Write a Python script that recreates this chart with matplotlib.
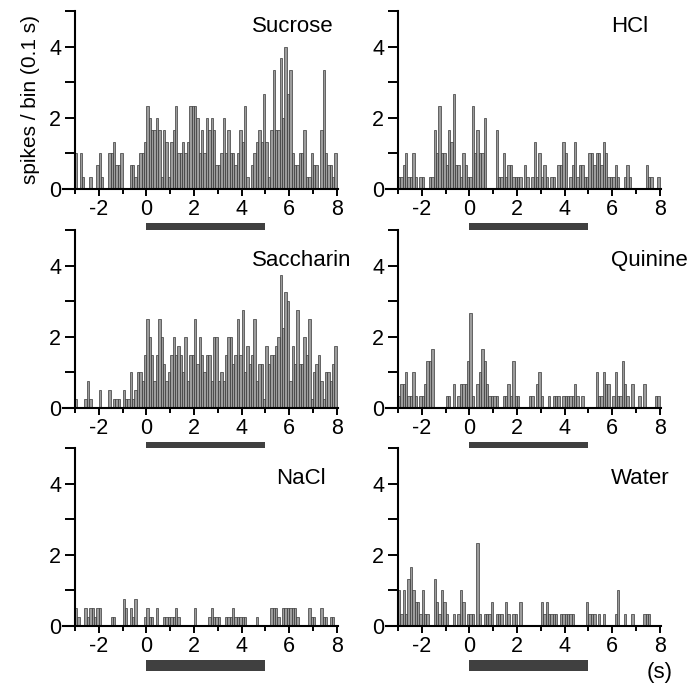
import numpy as np
import matplotlib
matplotlib.use('Agg')
import matplotlib.pyplot as plt
from matplotlib.patches import Rectangle
from matplotlib.ticker import MultipleLocator

plt.rcParams['font.family'] = ['Liberation Sans', 'DejaVu Sans']

# bin left edges: -3.0 .. 7.9 s, 0.1 s per bin
BIN_START = -3.0
BIN_WIDTH = 0.1

TASTES = ['Sucrose', 'HCl', 'Saccharin', 'Quinine', 'NaCl', 'Water']

# spikes / bin, one row of ten bins per second
sucrose = [
    1, 0, 1, 0.33, 0, 0, 0.33, 0, 0, 0.67,
    1, 0.33, 0, 0, 1, 1, 1.33, 0.67, 0.67, 1,
    0, 0, 0, 0.67, 0.67, 0.33, 0.67, 1, 1, 1.33,
    2.33, 2, 1.67, 1.67, 2, 1.67, 0.33, 1.67, 1.33, 0.33,
    1.33, 1.67, 2.33, 1, 1, 1.33, 1, 1.33, 2.33, 2.33,
    2.33, 2, 1, 1.67, 1, 2, 1.67, 2, 1.67, 0.67,
    0.67, 1, 2, 1, 1.67, 1, 1, 0.67, 1, 1.67,
    1.33, 2.33, 0.33, 0, 0.67, 1, 1.33, 1.67, 1.33, 2.67,
    1.33, 0.33, 1.67, 3.33, 1.67, 1.67, 3.67, 2, 4, 2.67,
    3.33, 1, 0.67, 0.67, 1, 1, 1.67, 0.33, 0.33, 1,
    0.67, 0.67, 0, 1.67, 3.33, 1, 0.67, 0.67, 0.33, 1,
]
hcl = [
    0.33, 0.33, 0.67, 1, 0.33, 0.33, 1, 0.33, 0, 0.33,
    0.33, 0, 0, 0.33, 0.33, 1.67, 1, 2.33, 1, 1,
    0.67, 1.67, 1.33, 2.67, 0.67, 0.67, 0.33, 1, 0.67, 0.33,
    0.33, 2.33, 1, 1.67, 1, 1, 2, 0, 0, 0,
    0, 1.67, 0.33, 0.33, 1, 0.33, 0.67, 0.67, 0.33, 0.33,
    0.33, 0.33, 0, 0.67, 0.33, 0, 0.33, 1.33, 0.33, 1,
    0.33, 0.67, 0.33, 0, 0.33, 0.33, 0, 0.67, 0.67, 1.33,
    1, 0, 0.33, 0.67, 1.33, 0.33, 0.67, 0.67, 0.33, 0.33,
    1, 1, 0.67, 1, 1, 0.67, 1.33, 1, 0.33, 0.33,
    0.33, 0.67, 0.33, 0, 0, 0.33, 0.67, 0.33, 0, 0,
    0, 0, 0, 0, 0.67, 0.33, 0.33, 0, 0, 0.33,
]
saccharin = [
    0.25, 0, 0, 0, 0.25, 0.75, 0.25, 0, 0, 0,
    0.5, 0, 0, 0, 0.5, 0, 0.25, 0.25, 0.25, 0,
    0.5, 0.25, 0.25, 1, 0.25, 0.5, 1, 1, 0.75, 1.5,
    2.5, 2, 1.5, 0.75, 1.5, 2.5, 2, 1.25, 0.75, 1,
    1.5, 2, 1.5, 1.75, 1.5, 1, 2, 0.75, 1.5, 1.5,
    2.5, 1.25, 2, 1.5, 1, 1.5, 1.5, 0.75, 2, 2,
    0.75, 1, 0.75, 1.5, 2, 2, 1.25, 1.5, 2.5, 1.5,
    2.75, 1, 1.75, 1.25, 1.5, 2.5, 0.75, 1.25, 1.25, 0.25,
    1.75, 1.25, 1.5, 1.5, 1.75, 2, 3.75, 2.25, 3.25, 3,
    0.75, 1.75, 1.25, 2.75, 1.25, 1.25, 2, 1.5, 2.5, 0.25,
    1, 1.25, 1.5, 0.75, 0.25, 1, 1, 0.75, 1.25, 1.75,
]
quinine = [
    0.33, 0.67, 0.67, 1, 0.33, 0.33, 1, 0.33, 0, 0.33,
    0.33, 0.67, 1.33, 1.33, 1.67, 0, 0, 0, 0, 0,
    0.33, 0.33, 0, 0.67, 0, 0.33, 0.67, 0.67, 0.67, 1.33,
    2.67, 0.33, 0, 0.67, 1, 1.67, 1.33, 0.67, 0.33, 0.33,
    0.33, 0.33, 0, 0, 0.33, 0.33, 0.67, 0.33, 1.33, 0.33,
    0.33, 0, 0, 0, 0, 0.33, 0.33, 0, 0.67, 1,
    0.33, 0, 0, 0.33, 0, 0.33, 0.33, 0.33, 0, 0.33,
    0.33, 0.33, 0.33, 0.33, 0.67, 0.33, 0, 0.33, 0, 0,
    0, 0, 0, 1, 0.33, 0.33, 1, 0.67, 0.67, 0,
    0.33, 1, 0.33, 0.33, 1.33, 0.67, 0.33, 0, 0.67, 0,
    0, 0.33, 0, 0.67, 0, 0, 0, 0, 0.33, 0.33,
]
nacl = [
    0.5, 0.25, 0, 0, 0.5, 0.25, 0.5, 0.5, 0.25, 0.5,
    0.5, 0, 0, 0, 0, 0.25, 0.25, 0, 0, 0,
    0.75, 0.5, 0, 0.5, 0.25, 0.75, 0, 0, 0, 0.25,
    0.5, 0.25, 0.25, 0, 0.5, 0, 0, 0.25, 0.25, 0.25,
    0.25, 0.25, 0.5, 0.25, 0, 0, 0, 0, 0, 0,
    0.5, 0, 0, 0, 0, 0, 0.25, 0.5, 0.25, 0.25,
    0.25, 0, 0, 0.25, 0.25, 0.25, 0.5, 0.25, 0.25, 0.25,
    0.25, 0.25, 0, 0, 0, 0, 0.25, 0, 0, 0,
    0, 0, 0.5, 0.5, 0.5, 0.25, 0, 0.5, 0.5, 0.5,
    0.5, 0.5, 0.5, 0.25, 0, 0, 0, 0, 0.5, 0.25,
    0.25, 0, 0, 0.5, 0.25, 0.25, 0, 0.25, 0.25, 0,
]
water = [
    1, 0.33, 1, 0.33, 1.33, 1.67, 1, 0.67, 0.67, 0.33,
    1, 0.33, 0.33, 0, 0, 1.33, 0.67, 0.33, 1, 0.67,
    0.33, 0, 0, 0.33, 0, 0.33, 1, 0.67, 0, 0.33,
    0.33, 0.33, 0, 2.33, 0.33, 0, 0.33, 0.33, 0.33, 0.67,
    0, 0.33, 0.33, 0.33, 0, 0.67, 0.33, 0, 0.33, 0.33,
    0, 0.67, 0, 0, 0, 0, 0, 0, 0, 0,
    0.67, 0.33, 0.67, 0.33, 0.33, 0.33, 0.33, 0, 0.33, 0.33,
    0.33, 0.33, 0.33, 0.33, 0, 0, 0, 0, 0, 0.67,
    0.33, 0.33, 0.33, 0, 0.33, 0, 0.33, 0, 0, 0,
    0, 0.33, 1, 0, 0, 0.33, 0, 0, 0.33, 0,
    0, 0, 0, 0.33, 0.33, 0.33, 0, 0, 0, 0,
]

COUNTS = [sucrose, hcl, saccharin, quinine, nacl, water]

# taste delivery window (s)
STIM_ON, STIM_OFF = 0, 5

# label anchor (x, baseline y) per panel
LABEL_POS = [(4.45, 4.4), (5.95, 4.4), (4.45, 4.0), (5.95, 4.0), (5.45, 4.0), (5.95, 4.0)]

W, H = 698, 686
COL_X = [63, 386]
ROW_BOTTOM = [189, 408, 626]
AX_W, AX_H = 275, 178


def style_axis(ax):
    for side in ['top', 'right']:
        ax.spines[side].set_visible(False)
    ax.spines['left'].set_position(('data', -3))
    ax.spines['left'].set_linewidth(1.5)
    ax.spines['bottom'].set_linewidth(1.5)
    ax.set_xlim(-3.5, 8.05)
    ax.set_ylim(0, 5)
    ax.xaxis.set_major_locator(MultipleLocator(2))
    ax.xaxis.set_minor_locator(MultipleLocator(1))
    ax.yaxis.set_major_locator(MultipleLocator(2))
    ax.yaxis.set_minor_locator(MultipleLocator(1))
    ax.tick_params(axis='y', which='both', direction='out', length=7, width=1.4,
                   labelsize=15.5, pad=3)
    ax.tick_params(axis='x', which='major', direction='out', length=5, width=1.4,
                   labelsize=15.5, pad=2)
    ax.tick_params(axis='x', which='minor', direction='out', length=3.5, width=1.4)
    ax.set_xticks([-2, 0, 2, 4, 6, 8])
    ax.set_xticklabels(['-2', '0', '2', '4', '6', '8'])


fig = plt.figure(figsize=(W / 100, H / 100), dpi=100)
edges = BIN_START + BIN_WIDTH * np.arange(len(sucrose))

for i, (name, counts) in enumerate(zip(TASTES, COUNTS)):
    row, col = divmod(i, 2)
    rect = [COL_X[col] / W, 1 - ROW_BOTTOM[row] / H, AX_W / W, AX_H / H]
    ax = fig.add_axes(rect)
    ax.bar(edges, counts, width=BIN_WIDTH, align='edge',
           facecolor='#9c9c9c', edgecolor='#383838', linewidth=0.5)
    style_axis(ax)
    lx, ly = LABEL_POS[i]
    ax.text(lx, ly, name, fontsize=16, ha='left', va='baseline', clip_on=False)
    # stimulus bar below the axis
    ax.add_patch(Rectangle((STIM_ON, -1.25), STIM_OFF - STIM_ON, 0.29,
                           facecolor='#404040', edgecolor='none', clip_on=False))
    if i == 0:
        ax.set_ylabel('spikes / bin (0.1 s)', fontsize=15)
        ax.yaxis.set_label_coords(-0.085, 0.5)
    if i == len(TASTES) - 1:
        ax.text(8, -1.0, '(s)', fontsize=16, ha='center', va='top', clip_on=False)

fig.savefig('out.png', dpi=100)
